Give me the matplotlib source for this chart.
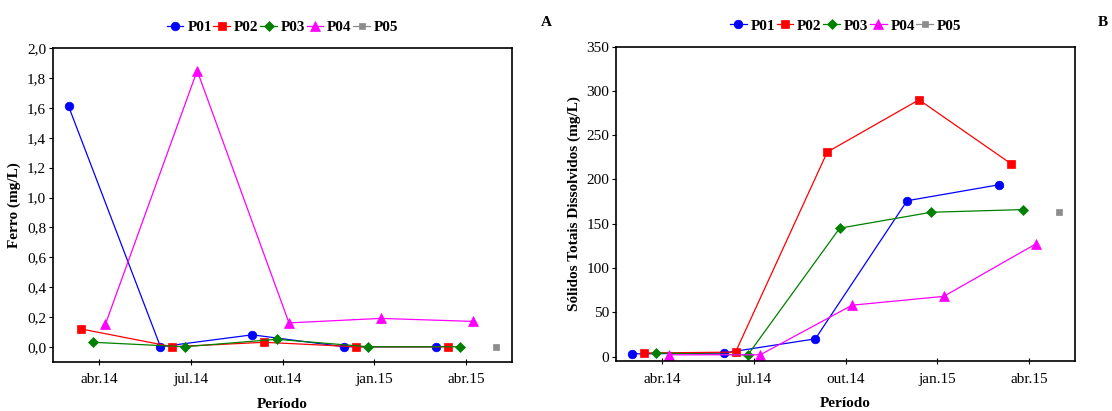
import numpy as np
import matplotlib
matplotlib.use("Agg")
import matplotlib.pyplot as plt

plt.rcParams['font.family'] = ['Liberation Serif', 'DejaVu Serif']

periods = ["abr.14", "jul.14", "out.14", "jan.15", "abr.15"]
series = ["P01", "P02", "P03", "P04", "P05"]

# Ferro (mg/L)
fe_p01 = [1.61, 0.00, 0.08, 0.00, 0.00]
fe_p02 = [0.12, 0.00, 0.03, 0.00, 0.00]
fe_p03 = [0.03, 0.00, 0.05, 0.00, 0.00]
fe_p04 = [0.15, 1.85, 0.16, 0.19, 0.17]
fe_p05 = [np.nan, np.nan, np.nan, np.nan, 0.00]

# Sólidos Totais Dissolvidos (mg/L)
std_p01 = [3, 4, 20, 176, 194]
std_p02 = [4, 5, 231, 290, 218]
std_p03 = [4, 2, 145, 163, 166]
std_p04 = [2, 2, 58, 68, 127]
std_p05 = [np.nan, np.nan, np.nan, np.nan, 163]

colors = ["#0000ff", "#ff0000", "#008000", "#ff00ff", "#8c8c8c"]
markers = ["o", "s", "D", "^", "s"]
msizes = [6.2, 6.2, 4.6, 6.5, 4.2]
offsets = [-0.33, -0.20, -0.065, 0.07, 0.33]

fig = plt.figure(figsize=(11.12, 4.11), dpi=100)
ax_a = fig.add_axes([0.0477, 0.120, 0.4128, 0.7625])
ax_b = fig.add_axes([0.5542, 0.1217, 0.4125, 0.7647])

x = np.arange(len(periods))


def draw(ax, data, ylim, yticks, ylabels, ylabel, letter, letter_x):
    handles = []
    for vals, name, c, m, ms, off in zip(data, series, colors, markers, msizes, offsets):
        h, = ax.plot(x + off, vals, color=c, marker=m, markersize=ms,
                     linewidth=0.9, label=name, markeredgewidth=0.5,
                     markeredgecolor=c)
        handles.append(h)
    ax.set_xlim(-0.5, 4.5)
    ax.set_ylim(*ylim)
    ax.set_xticks(x)
    ax.set_xticklabels(periods, fontsize=11)
    ax.set_yticks(yticks)
    ax.set_yticklabels(ylabels, fontsize=11)
    ax.tick_params(axis='x', direction='inout', length=5, width=0.8, pad=6)
    ax.tick_params(axis='y', direction='out', length=3, width=0.8, pad=2)
    for s in ax.spines.values():
        s.set_linewidth(1.2)
    ax.set_xlabel("Período", fontsize=11, fontweight='bold', labelpad=8)
    ax.set_ylabel(ylabel, fontsize=11, fontweight='bold', labelpad=4)
    ax.legend(handles=handles, loc='lower center', bbox_to_anchor=(0.5, 1.025),
              ncol=5, frameon=False, handlelength=1.1, handletextpad=0.25,
              columnspacing=0.1, borderaxespad=0.0,
              prop={'weight': 'bold', 'size': 11})
    fig.text(letter_x, 0.945, letter, fontsize=11, fontweight='bold',
             ha='center', va='center')


fe_ticks = np.round(np.arange(0, 2.01, 0.2), 1)
draw(ax_a, [fe_p01, fe_p02, fe_p03, fe_p04, fe_p05], (-0.1, 2.0),
     fe_ticks, [f"{v:.1f}".replace('.', ',') for v in fe_ticks],
     "Ferro (mg/L)", "A", 0.491)

std_ticks = np.arange(0, 351, 50)
draw(ax_b, [std_p01, std_p02, std_p03, std_p04, std_p05], (-5, 350),
     std_ticks, [str(v) for v in std_ticks],
     "Sólidos Totais Dissolvidos (mg/L)", "B", 0.9915)

fig.savefig("out.png", dpi=100)
